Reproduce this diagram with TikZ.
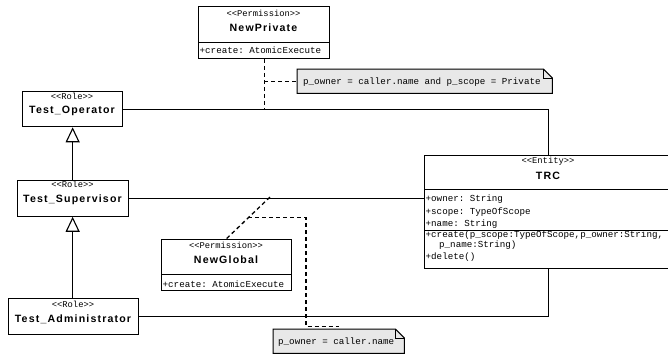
\documentclass[tikz,border=0pt]{standalone}
\usepackage{fontspec}
\setmainfont{Liberation Sans}
\newfontfamily\monof{Liberation Mono}
\newfontfamily\namef[LetterSpace=11]{Liberation Sans}
\usetikzlibrary{arrows.meta,calc}
\definecolor{notegray}{RGB}{232,232,232}
\frenchspacing
\newcommand\drawnote[1]{%
  \draw[line width=1pt, fill=notegray] (#1.north west) -- ($(#1.north east)+(-9,0)$) -- ($(#1.north east)+(0,9)$) -- (#1.south east) -- (#1.south west) -- cycle;
  \draw[line width=0.8pt] ($(#1.north east)+(-9,0)$) -- ($(#1.north east)+(-9,9)$) -- ($(#1.north east)+(0,9)$);}
\begin{document}
\begin{tikzpicture}[x=1pt,y=-1pt,
  box/.style={draw=black, line width=1.3pt, fill=white, inner sep=0pt, anchor=north west},
  sepline/.style={line width=1.3pt},
  stereo/.style={font=\monof\frenchspacing\fontsize{8.8}{9}\selectfont, inner sep=0pt},
  cname/.style={font=\namef\bfseries\fontsize{10.6}{12}\selectfont, inner sep=0pt},
  attr/.style={font=\monof\frenchspacing\fontsize{9.2}{11}\selectfont, inner sep=0pt, anchor=west},
  assoc/.style={draw=black, line width=1.1pt},
  dep/.style={draw=black, line width=1.3pt, dash pattern=on 4pt off 3pt},
  gen/.style={draw=black, line width=1.1pt, -{Triangle[open, length=15pt, width=14pt, fill=white]}},
  notebox/.style={inner sep=0pt, anchor=north west},
]
\useasboundingbox (0,0) rectangle (668,356);
\clip (0,0) rectangle (668,356);

% ---- boxes
\node[box, minimum width=131, minimum height=51.5] (np) at (198,6) {};
\node[box, minimum width=100, minimum height=35] (op) at (22,91) {};
\node[box, minimum width=111, minimum height=36] (sup) at (17,179.5) {};
\node[box, minimum width=130, minimum height=36] (adm) at (8,298) {};
\node[box, minimum width=130, minimum height=51.5] (ng) at (161,238.5) {};
\node[box, minimum width=248, minimum height=113] (trc) at (424,155) {};
\node[notebox, minimum width=255, minimum height=24] (note1) at (297,69) {};
\node[notebox, minimum width=131, minimum height=24] (note2) at (273,329) {};

% ---- connectors
\coordinate (sx) at (270,197);
\draw[assoc] (op.east) -| (trc.north);
\draw[assoc] (sup.east) -- (sup.east -| trc.west);
\draw[assoc] (adm.east) -| (trc.south);
\draw[gen] (op.south |- sup.north) -- (op.south);
\draw[gen] (op.south |- adm.north) -- (op.south |- sup.south);
\draw[dep] (np.south) -- (np.south |- op.east);
\draw[dep] (note1.west -| np.south) -- (note1.west);
\draw[dep] (ng.north) -- (sx);
\coordinate (mid) at ($(ng.north)!0.5!(sx)$);
\coordinate (nc) at (306,326.5);
\draw[dep] (mid) -| (nc) -- (nc -| note2.north);

% ---- notes
\drawnote{note1}
\drawnote{note2}
\node[attr] (n1t) at (303,82) {p\_owner = caller.name and p\_scope = Private};
\node[attr] (n2t) at (278,342) {p\_owner = caller.name};

% ---- class contents
\draw[sepline] ($(np.north west)+(0,36.5)$) -- ($(np.north east)+(0,36.5)$);
\node[stereo] (npS) at (263.5,13.3) {<<Permission>>};
\node[cname] (npN) at (263.5,27.5) {NewPrivate};
\node[attr] (npA) at (199.5,50.5) {+create: AtomicExecute};

\node[stereo] (opS) at (72,96.5) {<<Role>>};
\node[cname] (opN) at (72,110.5) {Test\_Operator};

\node[stereo] (supS) at (72.5,184.5) {<<Role>>};
\node[cname] (supN) at (72.5,199.5) {Test\_Supervisor};

\node[stereo] (admS) at (73,304.5) {<<Role>>};
\node[cname] (admN) at (73,319) {Test\_Administrator};

\draw[sepline] ($(ng.north west)+(0,36)$) -- ($(ng.north east)+(0,36)$);
\node[stereo] (ngS) at (226,245) {<<Permission>>};
\node[cname] (ngN) at (226,260) {NewGlobal};
\node[attr] (ngA) at (162.5,284) {+create: AtomicExecute};

\draw[sepline] ($(trc.north west)+(0,34.5)$) -- ($(trc.north east)+(0,34.5)$);
\draw[sepline] ($(trc.north west)+(0,75.5)$) -- ($(trc.north east)+(0,75.5)$);
\node[stereo] (trcS) at (548,161) {<<Entity>>};
\node[cname] (trcN) at (548,176) {TRC};
\node[attr] (a1) at (425.5,199) {+owner: String};
\node[attr] (a2) at (425.5,212) {+scope: TypeOfScope};
\node[attr] (a3) at (425.5,224.5) {+name: String};
\node[attr] (m1) at (425.5,235.5) {+create(p\_scope:TypeOfScope,p\_owner:String,};
\node[attr] (m1b) at (439,245) {p\_name:String)};
\node[attr] (m2) at (425.5,257.5) {+delete()};
\end{tikzpicture}
\end{document}
